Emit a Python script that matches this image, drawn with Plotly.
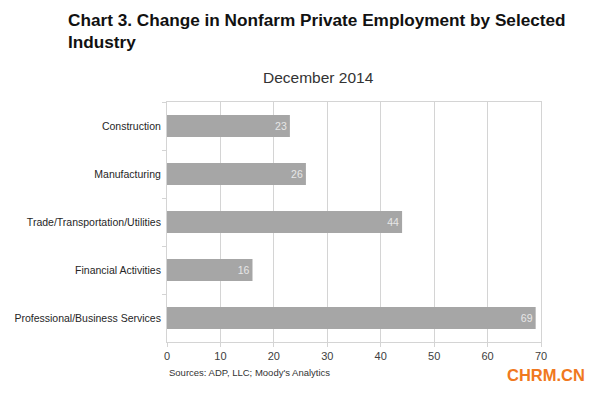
import plotly.graph_objects as go

categories = ["Construction", "Manufacturing", "Trade/Transportation/Utilities",
              "Financial Activities", "Professional/Business Services"]
values = [23, 26, 44, 16, 69]
x_ticks = [0, 10, 20, 30, 40, 50, 60, 70]

fig = go.Figure(go.Bar(
    y=categories, x=values, orientation="h",
    marker=dict(color="#a6a6a6", line=dict(width=0)),
    width=0.46,
    text=[str(v) for v in values], textposition="inside", insidetextanchor="end",
    textfont=dict(color="#e6e6e6", size=10.5, family="Liberation Sans"),
    cliponaxis=False,
))

# page body has an 8px margin, so the figure is 8px smaller and margins compensate
fig.update_layout(
    width=586, height=385,
    margin=dict(l=159, r=53, t=94, b=51, autoexpand=False),
    paper_bgcolor="white", plot_bgcolor="white",
    showlegend=False,
    font=dict(family="Liberation Sans", color="#333333"),
    xaxis=dict(range=[0, 70], tickvals=x_ticks, showgrid=True, gridcolor="#d4d4d4",
               gridwidth=1, zeroline=False, showline=True, linecolor="#d4d4d4",
               ticks="outside", ticklen=4, tickcolor="#d4d4d4",
               tickfont=dict(size=11, color="#404040"), mirror=True),
    yaxis=dict(categoryorder="array", categoryarray=categories, autorange="reversed",
               showline=True, linecolor="#d4d4d4", ticks="outside", ticklen=4,
               tickcolor="#d4d4d4", tickson="boundaries", showgrid=False,
               ticklabelstandoff=3,
               tickfont=dict(size=10.5, color="#262626"), mirror=True),
    annotations=[
        dict(text="<b>Chart 3. Change in Nonfarm Private Employment by Selected<br>Industry</b>",
             xref="paper", yref="paper", x=-0.27, y=1.0, xanchor="left", yanchor="bottom",
             yshift=48, align="left", showarrow=False,
             font=dict(size=17.2, color="#111111", family="Liberation Sans")),
        dict(text="December 2014", xref="paper", yref="paper", x=0.405, y=1.0,
             xanchor="center", yanchor="bottom", yshift=14, showarrow=False,
             font=dict(size=15.5, color="#333333", family="Liberation Sans")),
        dict(text="Sources: ADP, LLC; Moody's Analytics", xref="paper", yref="paper",
             x=0, y=0, xanchor="left", yanchor="top", yshift=-23, showarrow=False,
             font=dict(size=9.5, color="#333333", family="Liberation Sans")),
        dict(text="<b>CHRM.CN</b>", xref="paper", yref="paper", x=1.0, y=0,
             xanchor="left", yanchor="top", xshift=-36, yshift=-22, showarrow=False,
             font=dict(size=16.5, color="#f07820", family="Liberation Sans")),
    ],
)

fig.write_html("out.html")
